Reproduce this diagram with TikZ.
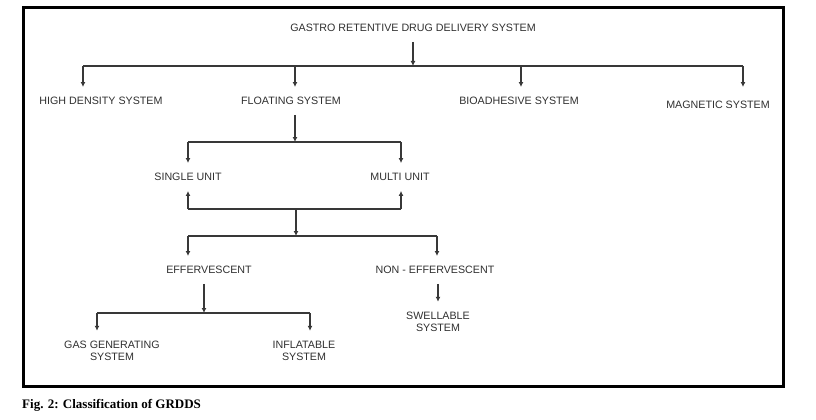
\documentclass[tikz,border=0pt]{standalone}
\usepackage{fontspec}
\setmainfont{Liberation Sans}
\newfontfamily\capfont{Liberation Serif}
\usetikzlibrary{arrows.meta}
\definecolor{txtgray}{HTML}{303030}
\definecolor{lngray}{HTML}{383838}

\begin{document}
\begin{tikzpicture}[x=1pt, y=-1pt,
  lbl/.style={text=txtgray, font=\fontsize{10.7}{12.5}\selectfont, align=center, inner xsep=1pt, inner ysep=10pt},
  bar/.style={draw=lngray, line width=1.2pt},
  arr/.style={bar, -{Latex[length=5pt, width=5pt]}}]

\useasboundingbox (0,0) rectangle (816,420);
\draw [line width=3pt] (23,8) rectangle (783,386);

\node [lbl] (grdds) at (413,28) {GASTRO RETENTIVE DRUG DELIVERY SYSTEM};
\node [lbl] (high) at (101,101) {HIGH DENSITY SYSTEM};
\node [lbl] (float) at (291,101) {FLOATING SYSTEM};
\node [lbl] (bio) at (519,101) {BIOADHESIVE SYSTEM};
\node [lbl] (magn) at (718,105) {MAGNETIC SYSTEM};
\node [lbl] (single) at (188,177) {SINGLE UNIT};
\node [lbl] (multi) at (400,177) {MULTI UNIT};
\node [lbl] (eff) at (209,270) {EFFERVESCENT};
\node [lbl] (noneff) at (435,270) {NON - EFFERVESCENT};
\node [lbl] (gas) at (112,351) {GAS GENERATING\\SYSTEM};
\node [lbl] (infl) at (304,351) {INFLATABLE\\SYSTEM};
\node [lbl] (swell) at (438,322) {SWELLABLE\\SYSTEM};

\node [anchor=west, inner sep=0pt] (cap) at (22,405) {\capfont\bfseries\fontsize{13}{15}\selectfont Fig. 2: Classification of GRDDS};

\coordinate (tb) at (413,66);
\coordinate (tbL) at (83,66);
\coordinate (tbF) at (295,66);
\coordinate (tbB) at (521,66);
\coordinate (tbR) at (743,66);

\draw [arr] (grdds) -- (tb);
\draw [bar] (tbL) -- (tbR);
\draw [arr] (tbL) -- (tbL |- high.north);
\draw [arr] (tbF) -- (tbF |- float.north);
\draw [arr] (tbB) -- (tbB |- bio.north);
\draw [arr] (tbR) -- (tbR |- high.north);

\coordinate (fb) at (295,142);
\coordinate (sL) at (188,142);
\coordinate (sR) at (401,142);
\draw [arr] (fb |- float.south) -- (fb);
\draw [bar] (sL) -- (sR);
\draw [arr] (sL) -- (single.north);
\draw [arr] (sR) -- (sR |- multi.north);

\coordinate (uL) at (188,209);
\coordinate (uR) at (401,209);
\coordinate (um) at (296,209);
\coordinate (em) at (296,236);
\draw [bar] (uL) -- (uR);
\draw [arr] (uL) -- (single.south);
\draw [arr] (uR) -- (uR |- multi.south);
\draw [arr] (um) -- (em);

\coordinate (eL) at (188,236);
\coordinate (eR) at (437,236);
\draw [bar] (eL) -- (eR);
\draw [arr] (eL) -- (eL |- eff.north);
\draw [arr] (eR) -- (eR |- noneff.north);

\coordinate (gb) at (204,313);
\coordinate (gL) at (97,313);
\coordinate (gR) at (310,313);
\draw [arr] (gb |- eff.south) -- (gb);
\draw [bar] (gL) -- (gR);
\draw [arr] (gL) -- (gL |- gas.north);
\draw [arr] (gR) -- (gR |- infl.north);

\draw [arr] (swell.north |- noneff.south) -- (swell.north);

\end{tikzpicture}
\end{document}
